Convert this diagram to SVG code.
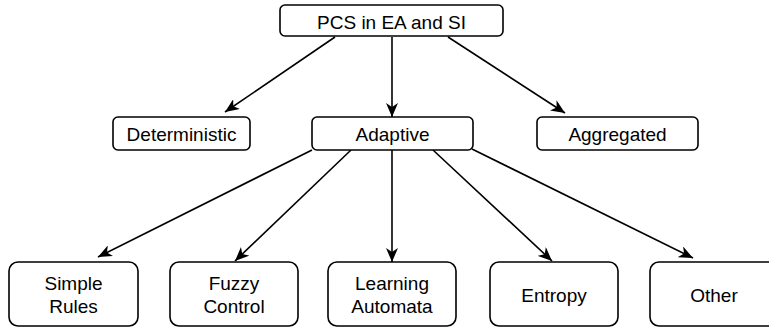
<svg xmlns="http://www.w3.org/2000/svg" width="769" height="327" viewBox="0 0 769 327">
<style>
.box{fill:#fff;stroke:#000;stroke-width:1.6}
.t{font-family:"Liberation Sans",Arial,Helvetica,sans-serif;font-size:19px;fill:#000;text-anchor:middle}
.c{stroke:#000;stroke-width:1.6;fill:none;marker-end:url(#arr)}
</style>
<defs>
<marker id="arr" viewBox="0 0 14 12" refX="14" refY="6" markerWidth="14" markerHeight="12" markerUnits="userSpaceOnUse" orient="auto">
<path d="M0,0 L14,6 L0,12 L4,6 Z" fill="#000"/>
</marker>
</defs>
<rect width="769" height="327" fill="#fff"/>
<g id="connectors">
<line class="c" x1="335" y1="37" x2="225" y2="112"/>
<line class="c" x1="392" y1="37" x2="392" y2="117"/>
<line class="c" x1="448" y1="37" x2="565" y2="113"/>
<line class="c" x1="312" y1="150" x2="98" y2="257"/>
<line class="c" x1="351" y1="150" x2="235" y2="261"/>
<line class="c" x1="392" y1="150" x2="392" y2="262"/>
<line class="c" x1="433" y1="150" x2="552" y2="261"/>
<line class="c" x1="472" y1="149" x2="693" y2="258"/>
</g>
<g id="root"><rect class="box" x="280" y="5" width="223" height="31" rx="5"/><text class="t" x="391.5" y="29">PCS in EA and SI</text></g>
<g id="deterministic"><rect class="box" x="113" y="117" width="137" height="33" rx="5"/><text class="t" x="181.5" y="140.5">Deterministic</text></g>
<g id="adaptive"><rect class="box" x="312" y="117" width="161" height="33" rx="5"/><text class="t" x="392.5" y="140.5">Adaptive</text></g>
<g id="aggregated"><rect class="box" x="537" y="117" width="161" height="33" rx="5"/><text class="t" x="617.5" y="140.5">Aggregated</text></g>
<g id="simple-rules"><rect class="box" x="9" y="262" width="129" height="64" rx="9"/><text class="t" x="73.5" y="290">Simple</text><text class="t" x="73.5" y="312.5">Rules</text></g>
<g id="fuzzy-control"><rect class="box" x="170" y="262" width="128" height="64" rx="9"/><text class="t" x="234" y="290">Fuzzy</text><text class="t" x="234" y="312.5">Control</text></g>
<g id="learning-automata"><rect class="box" x="328" y="262" width="128" height="64" rx="9"/><text class="t" x="392" y="290">Learning</text><text class="t" x="392" y="312.5">Automata</text></g>
<g id="entropy"><rect class="box" x="490" y="262" width="128" height="64" rx="9"/><text class="t" x="554" y="301.5">Entropy</text></g>
<g id="other"><rect class="box" x="650" y="262" width="128" height="64" rx="9"/><text class="t" x="714" y="301.5">Other</text></g>
</svg>
